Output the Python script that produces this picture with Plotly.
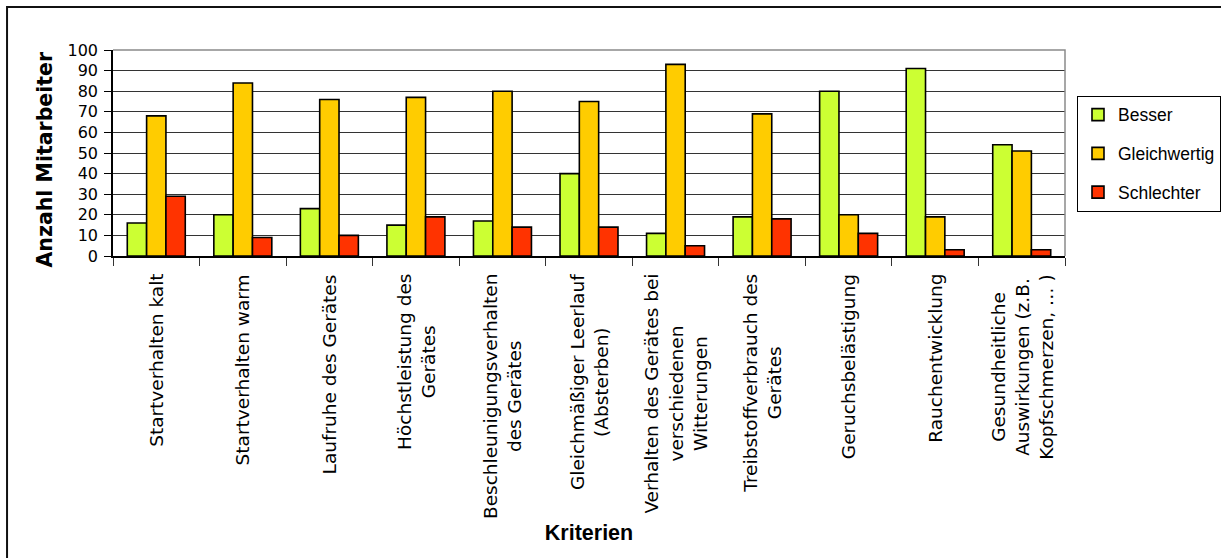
import plotly.graph_objects as go

# Beurteilungskriterien (Zeilenumbrüche wie in der Achsenbeschriftung)
categories = [
    "Startverhalten kalt",
    "Startverhalten warm",
    "Laufruhe des Gerätes",
    "Höchstleistung des<br>Gerätes",
    "Beschleunigungsverhalten<br>des Gerätes",
    "Gleichmäßiger Leerlauf<br>(Absterben)",
    "Verhalten des Gerätes bei<br>verschiedenen<br>Witterungen",
    "Treibstoffverbrauch des<br>Gerätes",
    "Geruchsbelästigung",
    "Rauchentwicklung",
    "Gesundheitliche<br>Auswirkungen (z.B.<br>Kopfschmerzen, … )",
]

besser = [16, 20, 23, 15, 17, 40, 11, 19, 80, 91, 54]
gleichwertig = [68, 84, 76, 77, 80, 75, 93, 69, 20, 19, 51]
schlechter = [29, 9, 10, 19, 14, 14, 5, 18, 11, 3, 3]

y_ticks = list(range(0, 101, 10))

series = [
    ("Besser", besser, "#CCFF33"),
    ("Gleichwertig", gleichwertig, "#FFCC00"),
    ("Schlechter", schlechter, "#FF3300"),
]

fig = go.Figure()
for name, values, color in series:
    fig.add_trace(go.Bar(
        name=name,
        x=categories,
        y=values,
        legendgroup=name,
        marker=dict(color=color, line=dict(color="black", width=1.6)),
    ))

label_font = dict(family="DejaVu Sans", size=18.5, color="black")
sans = "Liberation Sans, Arial, sans-serif"

# Kategorienbeschriftung: senkrecht, mehrzeilig zentriert unter jeder Gruppe
annotations = [
    dict(
        x=c, xref="x", y=-0.078, yref="paper",
        text=c, textangle=-90, showarrow=False,
        xanchor="center", yanchor="top", align="center",
        font=label_font,
    )
    for c in categories
]

# Titel der Werteachse
annotations.append(dict(
    x=-0.0709, xref="paper", y=0.466, yref="paper",
    text="<b>Anzahl Mitarbeiter</b>", textangle=-90, showarrow=False,
    xanchor="center", yanchor="middle",
    font=dict(family="DejaVu Sans", size=20.5, color="black"),
))

fig.update_layout(
    width=1221,
    height=558,
    margin=dict(l=113, r=156, t=50, b=302, pad=0, autoexpand=False),
    paper_bgcolor="white",
    plot_bgcolor="white",
    barmode="group",
    bargap=0.33,
    bargroupgap=0,
    showlegend=True,
    legend=dict(
        x=1.0126, xanchor="left", xref="paper",
        y=0.778, yanchor="top", yref="paper",
        bgcolor="white",
        bordercolor="black",
        borderwidth=1,
        font=dict(family=sans, size=17.5, color="black"),
        tracegroupgap=13,
        traceorder="grouped",
    ),
    xaxis=dict(
        type="category",
        showticklabels=False,
        ticks="outside",
        tickson="boundaries",
        ticklen=8,
        tickcolor="#333",
        tickwidth=1,
        showline=True,
        linecolor="black",
        linewidth=1.5,
        showgrid=False,
        title=dict(
            text="<b>Kriterien</b>",
            font=dict(family=sans, size=21.5, color="black"),
            standoff=268,
        ),
        automargin=False,
    ),
    yaxis=dict(
        range=[0, 100],
        tickvals=y_ticks,
        ticks="outside",
        ticklen=7,
        tickcolor="black",
        tickwidth=1,
        showline=True,
        linecolor="black",
        linewidth=1.5,
        showgrid=True,
        gridcolor="#333",
        gridwidth=1,
        zeroline=False,
        tickfont=dict(family="DejaVu Sans", size=16, color="black"),
        ticklabelstandoff=3,
        automargin=False,
    ),
    annotations=annotations,
    shapes=[
        # obere und rechte Begrenzung der Zeichenfläche
        dict(
            type="path", xref="paper", yref="paper",
            path="M 0,1 L 1,1 L 1,0",
            line=dict(color="#8a8a8a", width=1.5),
            layer="above",
        ),
        # Rahmen um das gesamte Diagramm
        dict(
            type="path", xref="paper", yref="paper",
            path="M -0.1113,-1.8 L -0.1113,1.2087 L 1.3,1.2087",
            line=dict(color="#111", width=2),
            layer="above",
        ),
    ],
)

fig.write_html("out.html")
